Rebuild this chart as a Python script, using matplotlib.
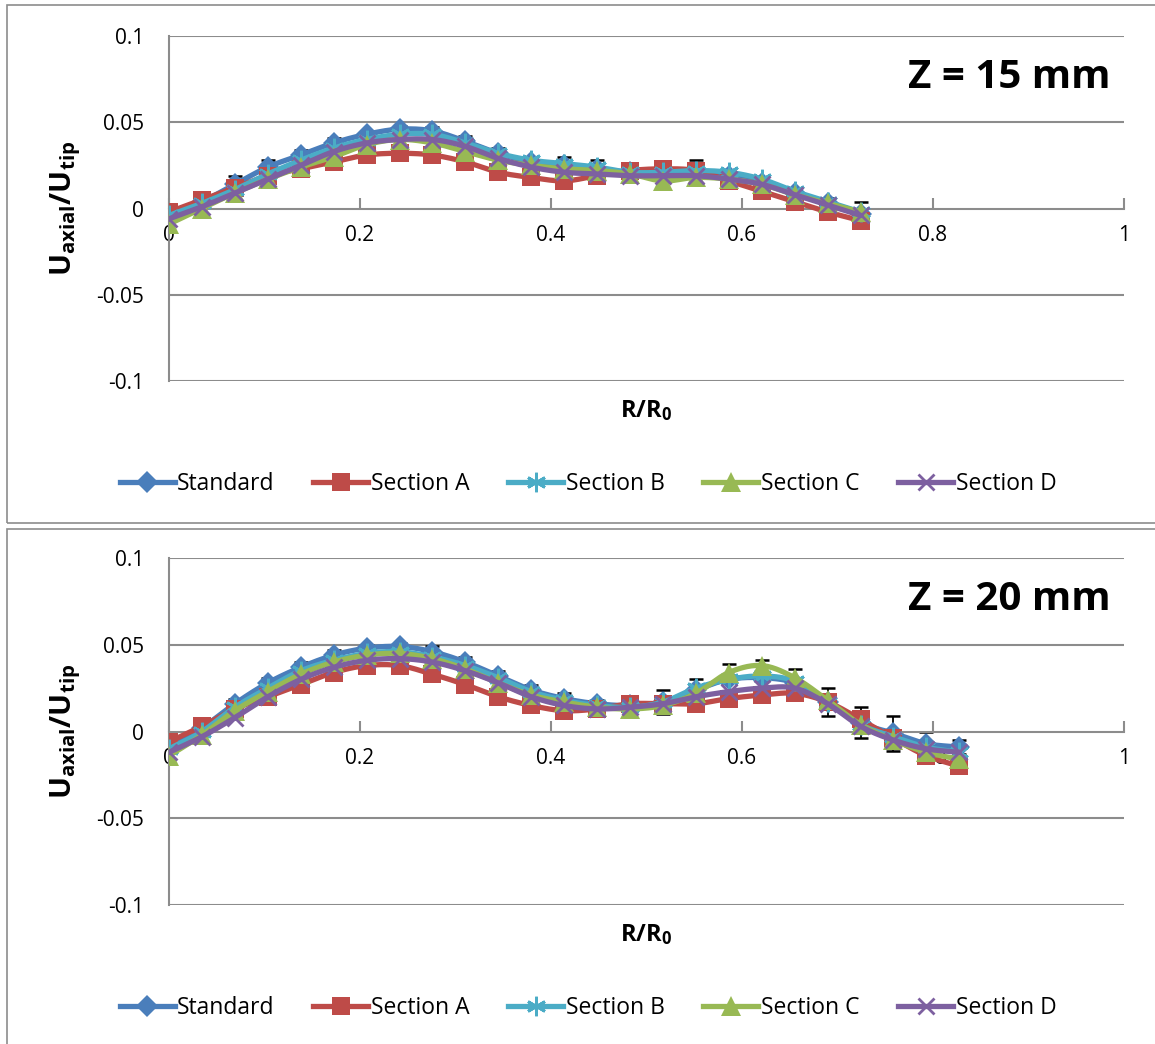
import numpy as np
import matplotlib
matplotlib.use("Agg")
import matplotlib.pyplot as plt
from matplotlib.lines import Line2D
from matplotlib.patches import Rectangle

plt.rcParams['font.family'] = ['Open Sans', 'DejaVu Sans']
plt.rcParams['mathtext.fontset'] = 'custom'
plt.rcParams['mathtext.rm'] = 'Open Sans'
plt.rcParams['mathtext.bf'] = 'Open Sans:bold'

# ---------------- data ----------------
series_names = ["Standard", "Section A", "Section B", "Section C", "Section D"]
panel_titles = ["Z = 15 mm", "Z = 20 mm"]
x_ticks = [0, 0.2, 0.4, 0.6, 0.8, 1]
x_tick_labels = ["0", "0.2", "0.4", "0.6", "0.8", "1"]
y_ticks = [-0.1, -0.05, 0, 0.05, 0.1]
y_tick_labels = ["-0.1", "-0.05", "0", "0.05", "0.1"]

r_top = [i / 29 for i in range(22)]
r_bot = [i / 29 for i in range(25)]

top_standard = [-0.003, 0.004, 0.014, 0.024, 0.031, 0.038, 0.043, 0.046, 0.045, 0.039, 0.032,
                0.027, 0.025, 0.023, 0.021, 0.020, 0.021, 0.019, 0.015, 0.009, 0.003, -0.003]
top_section_a = [-0.002, 0.005, 0.012, 0.019, 0.023, 0.027, 0.031, 0.032, 0.031, 0.027, 0.021,
                 0.018, 0.016, 0.019, 0.022, 0.023, 0.022, 0.016, 0.010, 0.004, -0.002, -0.007]
top_section_b = [-0.004, 0.003, 0.011, 0.020, 0.028, 0.035, 0.040, 0.043, 0.043, 0.038, 0.032,
                 0.028, 0.026, 0.024, 0.021, 0.021, 0.022, 0.021, 0.017, 0.010, 0.004, -0.002]
top_section_c = [-0.009, 0.000, 0.009, 0.017, 0.024, 0.030, 0.037, 0.040, 0.038, 0.033, 0.028,
                 0.025, 0.023, 0.022, 0.020, 0.016, 0.018, 0.017, 0.014, 0.008, 0.003, -0.002]
top_section_d = [-0.006, 0.001, 0.009, 0.017, 0.025, 0.033, 0.038, 0.040, 0.040, 0.036, 0.029,
                 0.024, 0.021, 0.020, 0.019, 0.019, 0.019, 0.017, 0.014, 0.008, 0.002, -0.004]
top_err = [0.002, 0.003, 0.005, 0.004, 0.003, 0.003, 0.002, 0.002, 0.002, 0.003, 0.003,
           0.003, 0.005, 0.005, 0.003, 0.003, 0.007, 0.003, 0.003, 0.003, 0.003, 0.007]

bot_standard = [-0.009, 0.002, 0.016, 0.028, 0.037, 0.044, 0.048, 0.049, 0.046, 0.040, 0.032,
                0.024, 0.019, 0.016, 0.015, 0.017, 0.024, 0.030, 0.031, 0.028, 0.017, 0.005,
                -0.001, -0.007, -0.009]
bot_section_a = [-0.006, 0.003, 0.013, 0.020, 0.027, 0.034, 0.038, 0.038, 0.033, 0.027, 0.020,
                 0.015, 0.012, 0.013, 0.016, 0.016, 0.016, 0.019, 0.021, 0.022, 0.017, 0.007,
                 -0.004, -0.014, -0.020]
bot_section_b = [-0.010, 0.000, 0.014, 0.025, 0.035, 0.041, 0.045, 0.046, 0.043, 0.038, 0.031,
                 0.023, 0.018, 0.015, 0.014, 0.017, 0.025, 0.030, 0.032, 0.029, 0.017, 0.004,
                 -0.003, -0.009, -0.012]
bot_section_c = [-0.014, -0.002, 0.012, 0.023, 0.033, 0.040, 0.044, 0.045, 0.042, 0.036, 0.028,
                 0.021, 0.017, 0.014, 0.013, 0.015, 0.022, 0.034, 0.038, 0.031, 0.018, 0.004,
                 -0.005, -0.012, -0.016]
bot_section_d = [-0.012, -0.003, 0.008, 0.020, 0.030, 0.037, 0.041, 0.042, 0.040, 0.035, 0.028,
                 0.020, 0.015, 0.013, 0.014, 0.016, 0.020, 0.023, 0.025, 0.025, 0.016, 0.003,
                 -0.005, -0.010, -0.012]
bot_err = [0.003, 0.003, 0.003, 0.003, 0.003, 0.003, 0.002, 0.002, 0.003, 0.003, 0.003,
           0.003, 0.003, 0.002, 0.002, 0.007, 0.006, 0.009, 0.010, 0.008, 0.008, 0.009,
           0.010, 0.007, 0.004]

# ---------------- styles ----------------
colors = ["#4A7EBB", "#BE4B48", "#4BACC6", "#98B954", "#7D60A0"]
markers = ["D", "s", (6, 2, 0), "^", "x"]
msizes = [11, 13, 14, 14, 12]
medge = [0, 0, 2.0, 0, 2.0]


def smooth(x, y, n=16):
    """Catmull-Rom style smoothing of the plotted polyline (Excel 'smoothed line')."""
    x = np.asarray(x, float)
    y = np.asarray(y, float)
    px = np.concatenate([[2 * x[0] - x[1]], x, [2 * x[-1] - x[-2]]])
    py = np.concatenate([[2 * y[0] - y[1]], y, [2 * y[-1] - y[-2]]])
    xs, ys = [], []
    t = np.linspace(0, 1, n, endpoint=False)
    for i in range(1, len(px) - 2):
        p0, p1, p2, p3 = py[i - 1], py[i], py[i + 1], py[i + 2]
        q0, q1, q2, q3 = px[i - 1], px[i], px[i + 1], px[i + 2]
        h00 = 2 * t**3 - 3 * t**2 + 1
        h10 = t**3 - 2 * t**2 + t
        h01 = -2 * t**3 + 3 * t**2
        h11 = t**3 - t**2
        ys.append(h00 * p1 + h10 * (p2 - p0) / 2 + h01 * p2 + h11 * (p3 - p1) / 2)
        xs.append(h00 * q1 + h10 * (q2 - q0) / 2 + h01 * q2 + h11 * (q3 - q1) / 2)
    xs.append([x[-1]])
    ys.append([y[-1]])
    return np.concatenate(xs), np.concatenate(ys)


W, H = 1155, 1044
fig = plt.figure(figsize=(W / 100, H / 100), dpi=100)

panels = [
    dict(r=r_top, ys=[top_standard, top_section_a, top_section_b, top_section_c, top_section_d],
         err=top_err, title=panel_titles[0], ax_top=36, ax_bot=381, box=(7, 5, 523), leg_y=484),
    dict(r=r_bot, ys=[bot_standard, bot_section_a, bot_section_b, bot_section_c, bot_section_d],
         err=bot_err, title=panel_titles[1], ax_top=558, ax_bot=905, box=(7, 529, 1050), leg_y=1008),
]

for p in panels:
    bx, btop, bbot = p["box"]
    axh = p["ax_bot"] - p["ax_top"]
    fig.patches.append(Rectangle((bx / W, 1 - bbot / H), (W + 20 - bx) / W, (bbot - btop) / H,
                                 transform=fig.transFigure, fill=False, edgecolor="#8C8C8C",
                                 lw=1.2, zorder=0))
    ax = fig.add_axes([169 / W, 1 - p["ax_bot"] / H, 955 / W, axh / H])
    ax.set_xlim(0, 1)
    ax.set_ylim(-0.1, 0.1)
    for s in ["top", "right"]:
        ax.spines[s].set_visible(False)
    ax.spines["bottom"].set_position(("data", 0))
    ax.spines["bottom"].set_color("#8C8C8C")
    ax.spines["left"].set_color("#8C8C8C")
    ax.spines["bottom"].set_linewidth(1.5)
    ax.spines["left"].set_linewidth(1.5)
    ax.set_yticks(y_ticks)
    ax.set_yticklabels(y_tick_labels)
    ax.set_xticks(x_ticks)
    ax.set_xticklabels(x_tick_labels)
    ax.tick_params(axis="y", length=0, pad=18, labelsize=15)
    ax.tick_params(axis="x", direction="in", length=8, width=1.5, color="#8C8C8C",
                   pad=12, labelsize=15)
    for yv in [-0.1, -0.05, 0.05, 0.1]:
        ax.axhline(yv, color="#8C8C8C", lw=1.5, zorder=0.5)

    ax.errorbar(p["r"], p["ys"][0], yerr=p["err"], fmt="none", ecolor="black",
                elinewidth=1.3, capsize=5, capthick=1.8, zorder=1)
    for k, yv in enumerate(p["ys"]):
        sx, sy = smooth(p["r"], yv)
        ax.plot(sx, sy, color=colors[k], lw=3.8, zorder=2 + k, solid_capstyle="round")
        ax.plot(p["r"], yv, ls="none", marker=markers[k], ms=msizes[k], color=colors[k],
                mec=colors[k], mew=medge[k], zorder=2 + k)

    ax.set_ylabel(r"$\mathbf{U_{axial}/U_{tip}}$", fontsize=21)
    ax.yaxis.set_label_coords(-86 / 955, 0.5)
    ax.set_xlabel(r"$\mathbf{R/R_0}$", fontsize=17)
    ax.xaxis.set_label_coords(0.5, -17 / axh)
    ax.text(1111 / W, 1 - (p["ax_top"] + 42) / H, p["title"], transform=fig.transFigure,
            ha="right", va="center", fontsize=29, fontweight="bold")
    ax.set_zorder(2)
    ax.patch.set_visible(False)

    handles = [Line2D([], [], color=colors[k], lw=3.8, marker=markers[k], ms=msizes[k],
                      mec=colors[k], mew=medge[k]) for k in range(5)]
    fig.legend(handles, series_names, loc="center", bbox_to_anchor=(588 / W, 1 - p["leg_y"] / H),
               ncol=5, frameon=False, fontsize=16.5, handlelength=2.4, handletextpad=0.1,
               columnspacing=1.7)

fig.savefig("out.png", dpi=100)
